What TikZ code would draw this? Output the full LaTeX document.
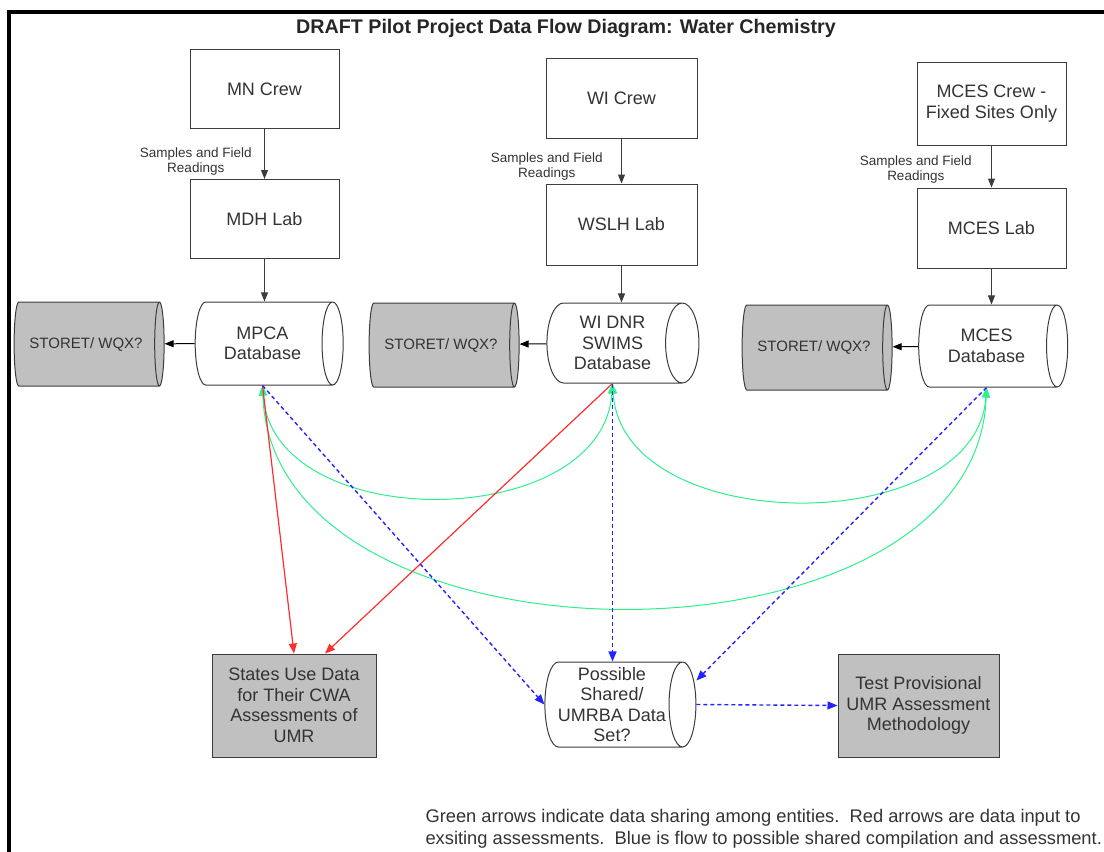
\documentclass[tikz,border=0pt]{standalone}
\usepackage{fontspec}
\setmainfont{Liberation Sans}
\usetikzlibrary{arrows.meta,positioning,shapes.geometric}
\definecolor{boxgray}{RGB}{192,192,192}
\definecolor{edgegray}{RGB}{60,60,60}
\definecolor{sharegreen}{RGB}{45,240,140}
\definecolor{inred}{RGB}{255,45,45}
\definecolor{flowblue}{RGB}{35,35,255}

\begin{document}
\begin{tikzpicture}[x=1pt,y=-1pt,>={Triangle[length=9pt,width=7pt]},
  bx/.style={rectangle,draw=edgegray,line width=1pt,minimum width=149pt,minimum height=79pt,inner sep=2pt,align=center,text=black!80,font=\fontsize{18}{20.5}\selectfont},
  gbx/.style={bx,fill=boxgray,minimum width=162pt,minimum height=103pt},
  db/.style={cylinder,shape aspect=0.6,draw=edgegray,line width=1pt,minimum height=148pt,minimum width=83pt,inner sep=1pt,align=center,text=black!80,font=\fontsize{18}{20.5}\selectfont},
  st/.style={db,fill=boxgray,minimum height=150pt,minimum width=84pt,font=\fontsize{15}{18}\selectfont},
  lbl/.style={align=center,text=black!80,font=\fontsize{13.5}{15}\selectfont},
  sh/.style={<->,sharegreen,line width=1pt,>={Triangle[length=10pt,width=8pt]}},
  rd/.style={->,inred,line width=1.2pt,>={Triangle[length=10pt,width=8pt]}},
  bl/.style={->,flowblue,line width=1.4pt,dash pattern=on 4pt off 3pt,>={Triangle[length=10pt,width=8pt]}}]
\useasboundingbox (0,0) rectangle (1104,852);
\draw[line width=4pt] (9,852) -- (9,11.5) -- (1104,11.5);
\node[font=\bfseries\fontsize{19.7}{22}\selectfont,text=black!85] (ttl) at (566,28) {DRAFT Pilot Project Data Flow Diagram: Water Chemistry};
% three sampling columns
\node[bx] (mnc) at (264.5,89) {MN Crew};
\node[bx] (mdh) at (264.5,219) {MDH Lab};
\node[db] (mpca) at (262.5,343.5) {MPCA\\Database};
\node[st] (st1) at (86,344) {STORET/ WQX?};
\node[bx,minimum width=151pt,minimum height=80pt] (wic) at (621.5,98) {WI Crew};
\node[bx,minimum width=151pt,minimum height=81pt] (wslh) at (621.5,224.5) {WSLH Lab};
\node[db,minimum height=152pt,minimum width=80pt] (swims) at (612.5,343) {WI DNR\\SWIMS\\Database};
\node[st] (st2) at (441,345) {STORET/ WQX?};
\node[bx,minimum height=83pt] (mcc) at (991.5,103.5) {MCES Crew -\\Fixed Sites Only};
\node[bx,minimum height=80pt] (mcl) at (991.5,228) {MCES Lab};
\node[db,minimum height=149pt,minimum width=82pt] (mcdb) at (986.5,346) {MCES\\Database};
\node[st,minimum width=85pt] (st3) at (814,347.5) {STORET/ WQX?};
% outputs
\node[gbx,minimum width=164pt] (states) at (294,705.5) {States Use Data\\for Their CWA\\Assessments of\\UMR};
\node[db,shape aspect=0.35,minimum height=151pt,minimum width=85pt] (poss) at (612,704.5) {Possible\\Shared/\\UMRBA Data\\Set?};
\node[gbx,minimum width=161pt] (test) at (918.5,705.5) {Test Provisional\\UMR Assessment\\Methodology};
\foreach \a/\b/\c/\d/\p in {mnc/mdh/mpca/9/.66,wic/wslh/swims/15/.62,mcc/mcl/mcdb/16/.58}{
  \draw[->,edgegray,line width=1pt] (\a) -- node[lbl,left=\d pt,pos=\p]{Samples and Field\\Readings} (\b);
  \draw[->,edgegray,line width=1pt] (\b) -- (\b |- \c.north);}
\foreach \a/\b in {mpca/st1,swims/st2,mcdb/st3}
  \draw[->,black,line width=1pt] (\a) -- (\b);
% sharing among entities
\draw[sh] (mpca.south) .. controls +(10,150) and +(-10,150) .. (swims.south);
\draw[sh] (swims.south) .. controls +(10,155) and +(-10,152) .. (mcdb.south);
\draw[sh] (mpca.south) .. controls +(10,295) and +(-10,293) .. (mcdb.south);
% input to assessments
\draw[rd] (mpca.south) -- (states.north);
\draw[rd] (swims.south) -- ([xshift=31pt]states.north);
% shared compilation
\draw[bl] (mpca.south) -- (poss.west);
\draw[bl] (swims.south) -- (swims.south |- poss.north);
\draw[bl] (mcdb.south) -- ([yshift=24pt]poss.east);
\draw[bl] (poss.east) -- (test.west);
\node[lbl,align=left,anchor=north west,font=\fontsize{18.3}{22}\selectfont] (note) at (422,806) {Green arrows indicate data sharing among entities.\ \ Red arrows are data input to\\exsiting assessments.\ \ Blue is flow to possible shared compilation and assessment.};
\end{tikzpicture}
\end{document}
